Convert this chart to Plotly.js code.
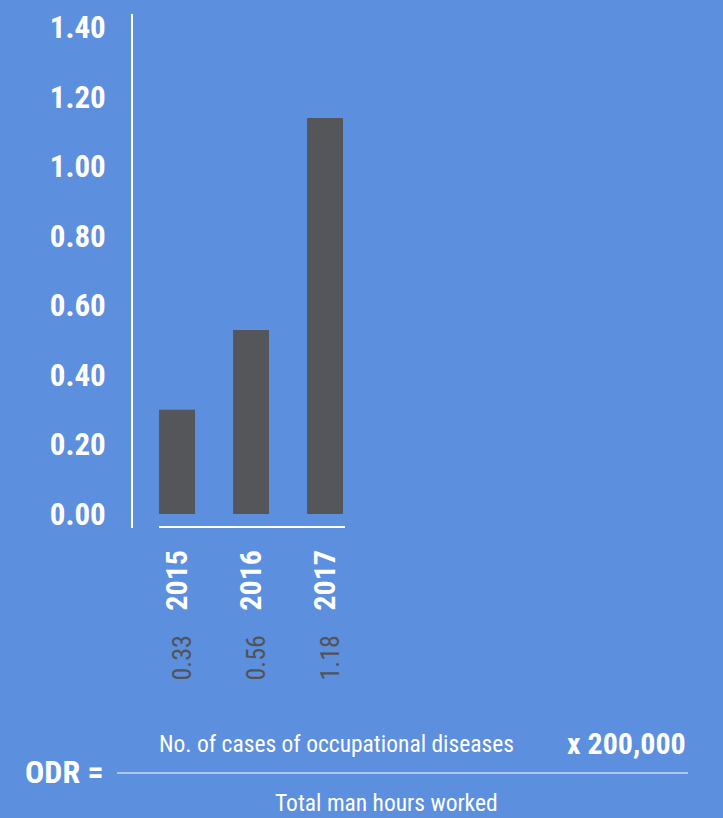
<!DOCTYPE html>
<html>
<head>
<meta charset="utf-8">
<script src="https://cdn.plot.ly/plotly-3.0.1.min.js"></script>
<style>html,body{margin:0;padding:0;background:#5c8fdd;}</style>
</head>
<body>
<div id="chart" style="width:723px;height:818px;"></div>
<script>
// Data
var years = ['2015', '2016', '2017'];
var barValues = [0.30, 0.53, 1.14];          // bar heights as drawn
var valueLabels = ['0.33', '0.56', '1.18'];  // printed values
var yTickVals = [0, 0.2, 0.4, 0.6, 0.8, 1.0, 1.2, 1.4];
var yTickText = ['0.00', '0.20', '0.40', '0.60', '0.80', '1.00', '1.20', '1.40'];

var FONT = '"Liberation Sans Narrow", "Roboto Condensed", "Arial Narrow", "DejaVu Sans Condensed", sans-serif';
var BG = '#5c8fdd';
var BAR = '#55565a';

var W = 723, H = 818;
var L = 133, R = 378, T = 14, B = 290;
var plotW = W - L - R, plotH = H - T - B;
var XR = [-0.595, 2.27];
function px(x) { return (x - L) / plotW; }
function py(y) { return (H - B - y) / plotH; }
function catPaper(i) { return (i - XR[0]) / (XR[1] - XR[0]); }

var trace = {
  type: 'bar',
  x: years,
  y: barValues,
  width: 0.486,
  marker: {color: BAR},
  hoverinfo: 'none'
};

var annotations = valueLabels.map(function (t, i) {
  return {
    x: catPaper(i), xref: 'paper', xshift: 4,
    y: py(634), yref: 'paper',
    text: t, showarrow: false, textangle: -90,
    xanchor: 'center', yanchor: 'top',
    font: {family: FONT, size: 26, color: '#515357'}
  };
});

annotations.push(
  {xref: 'paper', yref: 'paper', x: px(106), y: py(772), xanchor: 'right', yanchor: 'middle',
   text: '<b>ODR =</b>', showarrow: false, font: {family: FONT, size: 32, color: '#ffffff'}},
  {xref: 'paper', yref: 'paper', x: px(336), y: py(744), xanchor: 'center', yanchor: 'middle',
   text: 'No. of cases of occupational diseases', showarrow: false, font: {family: FONT, size: 23.5, color: '#ffffff'}},
  {xref: 'paper', yref: 'paper', x: px(688), y: py(743), xanchor: 'right', yanchor: 'middle',
   text: '<b>x 200,000</b>', showarrow: false, font: {family: FONT, size: 30, color: '#ffffff'}},
  {xref: 'paper', yref: 'paper', x: px(386), y: py(803), xanchor: 'center', yanchor: 'middle',
   text: 'Total man hours worked', showarrow: false, font: {family: FONT, size: 23.5, color: '#ffffff'}}
);

var layout = {
  width: W, height: H, autosize: false,
  paper_bgcolor: BG, plot_bgcolor: BG,
  margin: {l: L, r: R, t: T, b: B, pad: 0},
  showlegend: false,
  font: {family: FONT, color: '#ffffff'},
  xaxis: {
    type: 'category',
    range: XR,
    showgrid: false, zeroline: false, showline: false,
    ticks: '', tickangle: -90,
    ticklabelstandoff: 15,
    tickfont: {family: FONT, size: 30, color: '#ffffff', weight: 'bold'},
    fixedrange: true
  },
  yaxis: {
    range: [-0.04, 1.439],
    tickvals: yTickVals, ticktext: yTickText,
    showgrid: false, zeroline: false,
    showline: true, linecolor: '#ffffff', linewidth: 2,
    ticks: '', ticklabelstandoff: 19,
    tickfont: {family: FONT, size: 31, color: '#ffffff', weight: 'bold'},
    fixedrange: true
  },
  shapes: [
    {type: 'line', xref: 'paper', yref: 'paper', x0: px(159), x1: px(345), y0: py(527), y1: py(527),
     line: {color: '#ffffff', width: 2}},
    {type: 'line', xref: 'paper', yref: 'paper', x0: px(117), x1: px(688), y0: py(773), y1: py(773),
     line: {color: '#ffffff', width: 1.2}}
  ],
  annotations: annotations
};

Plotly.newPlot('chart', [trace], layout, {displayModeBar: false, staticPlot: true});
</script>
</body>
</html>
